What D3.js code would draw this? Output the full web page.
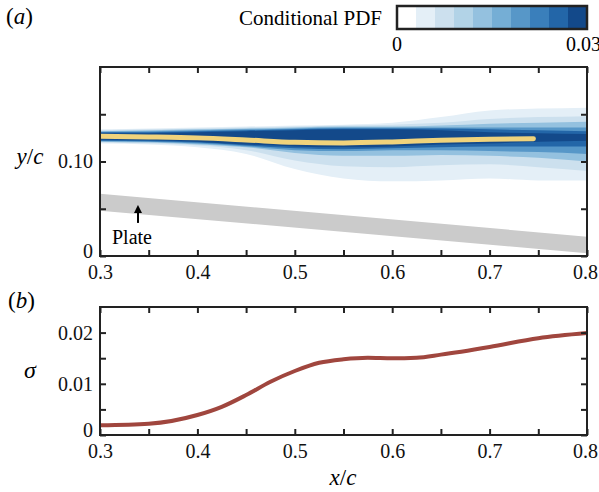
<!DOCTYPE html>
<html><head><meta charset="utf-8">
<script src="https://cdn.jsdelivr.net/npm/d3@7/dist/d3.min.js"></script>
<style>
body{margin:0;background:#fff;}
</style></head>
<body><svg id="c" width="599" height="492"></svg>
<script>
// ---------- data ----------
const xTicks = [0.3,0.35,0.4,0.45,0.5,0.55,0.6,0.65,0.7,0.75,0.8];
const xLabels = [0.3,0.4,0.5,0.6,0.7,0.8];
const topYTicks = [0,0.05,0.1,0.15];
const topYLabels = [0,0.1];
const botYTicks = [0,0.005,0.01,0.015,0.02];
const botYLabels = [0,0.01,0.02];

// colorbar
const pdfColors = ["#ffffff","#e4eff7","#cce0ee","#b2d3e7","#94c1df","#75aed5","#5797c8","#3a7fbb","#2366a8","#13498a"];
const pdfDomain = [0,0.03];

// conditional PDF contour bands (lower / upper edge of each level, y/c) at stations
const pdfX = [0.30,0.35,0.40,0.45,0.50,0.55,0.60,0.65,0.70,0.75,0.80];
const pdfLevels = [0.003,0.007,0.012,0.018,0.024,0.029];
const bandLo = [
  [0.119,0.118,0.115,0.108,0.092,0.082,0.079,0.080,0.082,0.080,0.080],
  [0.120,0.119,0.117,0.112,0.101,0.095,0.094,0.096,0.097,0.094,0.090],
  [0.121,0.120,0.118,0.115,0.109,0.106,0.106,0.107,0.106,0.104,0.100],
  [0.1215,0.121,0.119,0.116,0.112,0.111,0.112,0.112,0.111,0.110,0.108],
  [0.122,0.1215,0.120,0.117,0.114,0.113,0.114,0.115,0.116,0.116,0.116],
  [0.123,0.1225,0.121,0.118,0.116,0.115,0.116,0.118,0.119,0.121,0.122]
];
const bandHi = [
  [0.134,0.135,0.136,0.137,0.138,0.139,0.141,0.147,0.154,0.156,0.157],
  [0.133,0.134,0.135,0.136,0.137,0.138,0.139,0.141,0.145,0.147,0.148],
  [0.132,0.133,0.134,0.135,0.136,0.137,0.137,0.138,0.140,0.141,0.142],
  [0.1315,0.132,0.133,0.134,0.135,0.136,0.136,0.136,0.136,0.136,0.136],
  [0.131,0.131,0.132,0.133,0.134,0.135,0.135,0.135,0.134,0.133,0.132],
  [0.130,0.130,0.131,0.132,0.133,0.134,0.134,0.133,0.131,0.130,0.129]
];

// mean (yellow) line
const meanX = [0.30,0.35,0.40,0.45,0.50,0.55,0.60,0.65,0.70,0.745];
const meanY = [0.1266,0.1260,0.1250,0.1228,0.1203,0.1197,0.1207,0.1225,0.1235,0.1240];

// plate
const plateX = [0.3,0.8];
const plateTop = [0.066,0.0205];
const plateBottom = [0.048,0.003];
const plateArrowX = 0.339;
const plateArrowY = [0.035,0.053];

// sigma
const sigX = [0.30,0.35,0.40,0.425,0.45,0.475,0.50,0.525,0.55,0.575,0.60,0.625,0.65,0.70,0.75,0.80];
const sigY = [0.0019,0.0022,0.0039,0.0055,0.0078,0.0104,0.0125,0.0141,0.0148,0.0151,0.0150,0.0151,0.0157,0.0172,0.0189,0.0199];

// ---------- drawing ----------
const FF = "'Liberation Serif', serif";
const svg = d3.select("#c").attr("font-family",FF);
const L = 100, R = 587;
const A = {top:67, bottom:256};
const B = {top:307, bottom:435};
const x = d3.scaleLinear().domain([0.3,0.8]).range([L,R]);
const yA = d3.scaleLinear().domain([0,0.2]).range([A.bottom,A.top]);
const yB = d3.scaleLinear().domain([0,0.025]).range([B.bottom,B.top]);
const color = d3.scaleQuantize().domain(pdfDomain).range(pdfColors);
const FS = 20, ink = "#222";

svg.append("defs").append("clipPath").attr("id","clipA")
  .append("rect").attr("x",L).attr("y",A.top).attr("width",R-L).attr("height",A.bottom-A.top);
svg.select("defs").append("marker").attr("id","arr").attr("viewBox","0 0 10 10")
  .attr("refX",5).attr("refY",5).attr("markerWidth",4).attr("markerHeight",4).attr("orient","auto")
  .append("path").attr("d","M0,0L10,5L0,10z").attr("fill","#000");

const gA = svg.append("g").attr("clip-path","url(#clipA)");
// bands
pdfLevels.forEach((lv,i)=>{
  const pts = pdfX.map((d,j)=>({x:d,lo:bandLo[i][j],hi:bandHi[i][j]}));
  gA.append("path").datum(pts)
    .attr("d", d3.area().x(d=>x(d.x)).y0(d=>yA(d.lo)).y1(d=>yA(d.hi)).curve(d3.curveMonotoneX))
    .attr("fill", color(lv));
});
// plate
const platePts = plateX.map((d,j)=>({x:d,t:plateTop[j],b:plateBottom[j]}));
gA.append("path").datum(platePts)
  .attr("d", d3.area().x(d=>x(d.x)).y0(d=>yA(d.b)).y1(d=>yA(d.t)))
  .attr("fill","#cbcbcb");
// mean line
gA.append("path").datum(meanX.map((d,j)=>[d,meanY[j]]))
  .attr("d", d3.line().x(d=>x(d[0])).y(d=>yA(d[1])).curve(d3.curveMonotoneX))
  .attr("fill","none").attr("stroke","#f0d37c").attr("stroke-width",5).attr("stroke-linecap","round");
// plate arrow + label
svg.append("line").attr("x1",x(plateArrowX)).attr("x2",x(plateArrowX))
  .attr("y1",yA(plateArrowY[0])).attr("y2",yA(plateArrowY[1])+3)
  .attr("stroke","#000").attr("stroke-width",2).attr("marker-end","url(#arr)");
svg.append("text").attr("x",x(plateArrowX)-6).attr("y",yA(0)-12).attr("text-anchor","middle")
  .attr("font-size",FS).attr("font-family",FF).text("Plate");

// sigma line
svg.append("path").datum(sigX.map((d,j)=>[d,sigY[j]]))
  .attr("d", d3.line().x(d=>x(d[0])).y(d=>yB(d[1])).curve(d3.curveMonotoneX))
  .attr("fill","none").attr("stroke","#a0463e").attr("stroke-width",4);

// axes
function fmtX(d){ return xLabels.some(v=>Math.abs(v-d)<1e-9) ? d3.format(".1f")(d) : ""; }
function drawAxes(y, top, bottom, yTicks, yLabels, yFmt){
  const ax = svg.append("g").attr("transform",`translate(0,${bottom})`)
    .call(d3.axisBottom(x).tickValues(xTicks).tickSize(-6).tickSizeOuter(0).tickPadding(9).tickFormat(fmtX));
  const at = svg.append("g").attr("transform",`translate(0,${top})`)
    .call(d3.axisTop(x).tickValues(xTicks).tickSize(-6).tickSizeOuter(0).tickFormat(""));
  const ay = svg.append("g").attr("transform",`translate(${L},0)`)
    .call(d3.axisLeft(y).tickValues(yTicks).tickSize(-6).tickSizeOuter(0).tickPadding(7)
      .tickFormat(d=> yLabels.some(v=>Math.abs(v-d)<1e-9) ? yFmt(d) : ""));
  const ar = svg.append("g").attr("transform",`translate(${R},0)`)
    .call(d3.axisRight(y).tickValues(yTicks).tickSize(-6).tickSizeOuter(0).tickFormat(""));
  [ax,at,ay,ar].forEach(g=>{
    g.attr("font-family",FF);
    g.select(".domain").remove();
    g.selectAll(".tick line").attr("stroke",ink).attr("stroke-width",2);
    g.selectAll("text").attr("font-size",FS).attr("font-family",FF).attr("fill","#111");
  });
  ay.selectAll(".tick text").filter(d=>d===0).attr("dy","0.08em");
  ax.selectAll(".tick text").filter(d=>Math.abs(d-0.8)<1e-9).attr("dx","-0.1em");
  svg.append("rect").attr("x",L).attr("y",top).attr("width",R-L).attr("height",bottom-top)
    .attr("fill","none").attr("stroke",ink).attr("stroke-width",2);
}
drawAxes(yA, A.top, A.bottom, topYTicks, topYLabels, d=> d===0?"0":d3.format(".2f")(d));
drawAxes(yB, B.top, B.bottom, botYTicks, botYLabels, d=> d===0?"0":d3.format(".2f")(d));

// axis titles
const yl = svg.append("text").attr("x",30).attr("y",164).attr("text-anchor","middle").attr("font-size",23).attr("font-family",FF);
yl.append("tspan").attr("font-style","italic").text("y");
yl.append("tspan").text("/");
yl.append("tspan").attr("font-style","italic").text("c");
svg.append("text").attr("x",30).attr("y",378).attr("text-anchor","middle").attr("font-size",24).attr("font-family",FF)
  .attr("font-style","italic").text("σ");
const xl = svg.append("text").attr("x",343).attr("y",485).attr("text-anchor","middle").attr("font-size",23).attr("font-family",FF);
xl.append("tspan").attr("font-style","italic").text("x");
xl.append("tspan").text("/");
xl.append("tspan").attr("font-style","italic").text("c");

// panel labels
function panel(tx,ty,l){
  const t = svg.append("text").attr("x",tx).attr("y",ty).attr("font-size",23).attr("font-family",FF);
  t.append("tspan").text("(");
  t.append("tspan").attr("font-style","italic").text(l);
  t.append("tspan").text(")");
}
panel(6,24,"a");
panel(8,308,"b");

// colorbar
const cbX = d3.scaleLinear().domain(pdfDomain).range([397,587]);
const nC = pdfColors.length;
const step = (pdfDomain[1]-pdfDomain[0])/nC;
svg.append("g").selectAll("rect").data(pdfColors).join("rect")
  .attr("x",(d,i)=>cbX(i*step)).attr("y",6).attr("width",(d,i)=>cbX((i+1)*step)-cbX(i*step)+0.5).attr("height",23)
  .attr("fill",d=>d);
svg.append("rect").attr("x",397).attr("y",6).attr("width",190).attr("height",23)
  .attr("fill","none").attr("stroke",ink).attr("stroke-width",2.5);
svg.append("text").attr("x",382).attr("y",25).attr("text-anchor","end").attr("font-size",21).attr("font-family",FF).text("Conditional PDF");
svg.append("text").attr("x",cbX(0)).attr("y",51).attr("text-anchor","middle").attr("font-size",FS).attr("font-family",FF).text("0");
svg.append("text").attr("x",cbX(0.03)-21).attr("y",51).attr("text-anchor","start").attr("font-size",FS).attr("font-family",FF).text("0.03");
</script></body></html>
